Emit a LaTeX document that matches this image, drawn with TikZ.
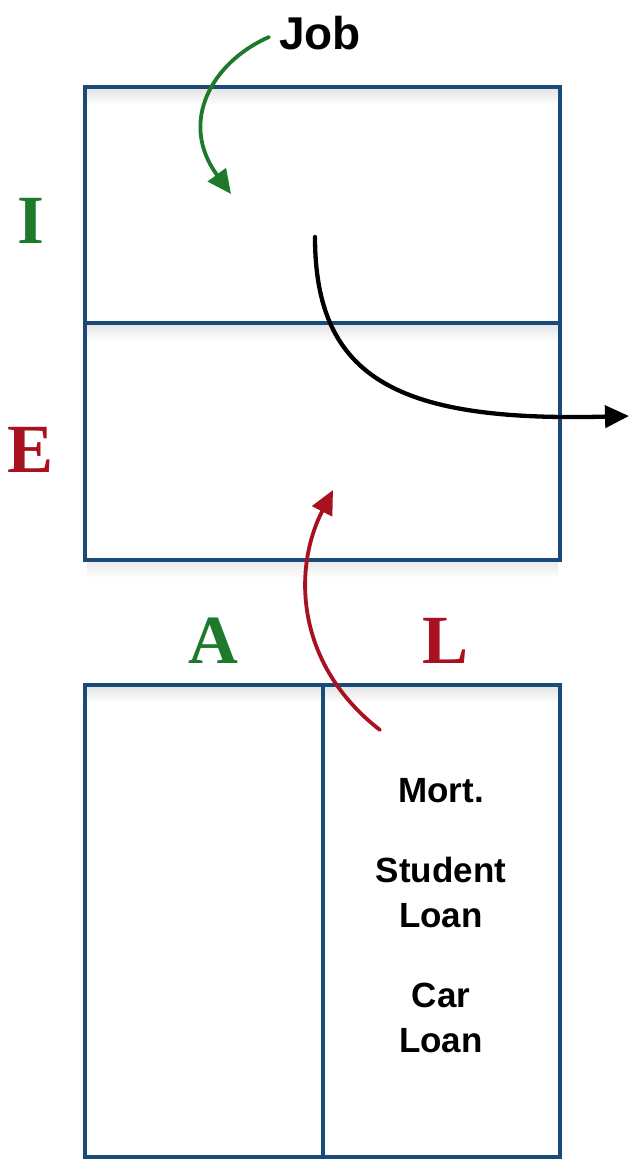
\documentclass[tikz,border=0pt]{standalone}
\usepackage{fontspec}
\setmainfont{Liberation Serif}
\newfontfamily\lblsans{Liberation Sans}
\usetikzlibrary{arrows.meta}
\definecolor{boxblue}{RGB}{26,74,122}
\definecolor{igreen}{RGB}{30,122,42}
\definecolor{ered}{RGB}{168,18,32}
\tikzset{
  box/.style={draw=boxblue, line width=3.4pt},
  bigletter/.style={font=\fontsize{69}{69}\selectfont\bfseries, inner sep=0pt, anchor=base},
  loanlbl/.style={font=\lblsans\bfseries\fontsize{35}{45}\selectfont, align=center, inner sep=0pt, anchor=base},
  flow/.style={line width=3.8pt, line cap=round, -{Triangle[length=24pt,width=22pt]}},
  shadeband/.style={top color=black!10, bottom color=white, draw=none}
}
\begin{document}
\begin{tikzpicture}[x=1pt,y=-1pt]
\useasboundingbox (0,0) rectangle (629,1160);
\fill[white] (0,0) rectangle (629,1160);
% soft shading
\shade[shadeband] (87,89) rectangle (558,105);
\shade[shadeband] (87,325) rectangle (558,341);
\shade[shadeband] (87,687) rectangle (558,703);
\shade[top color=black!8, bottom color=white, draw=none] (87,562) rectangle (558,578);
% boxes
\draw[box] (85,87) rectangle (560,560);
\draw[box] (85,323) -- (560,323);
\draw[box] (85,685) rectangle (560,1157);
\draw[box] (323,685) -- (323,1157);
% letters
\node[bigletter, text=igreen] (I) at (31,243) {I};
\node[bigletter, text=ered] (E) at (31,472) {E};
\node[bigletter, text=igreen] (A) at (213,663) {A};
\node[bigletter, text=ered] (L) at (446,663) {L};
% labels
\node[font=\lblsans\bfseries\fontsize{46}{46}\selectfont, inner sep=0pt, anchor=base] (job) at (320,49) {Job};
\node[loanlbl] (mort) at (441,802) {Mort.};
\node[loanlbl] (student) at (441,927) {Student\\Loan};
\node[loanlbl] (car) at (441,1052) {Car\\Loan};
% arrow end points
\coordinate (jobstart) at (269,37);
\coordinate (jobend) at (231,194);
\coordinate (outstart) at (315,237);
\coordinate (outend) at (629,416);
\coordinate (debtstart) at (380,730);
\coordinate (debtend) at (333,490);
% arrows
\draw[flow, igreen] (jobstart) .. controls (212,62) and (178,122) .. (jobend);
\draw[flow, black, line width=4.3pt] (outstart) .. controls (315,380) and (400,422) .. (outend);
\draw[flow, ered] (debtstart) .. controls (296,665) and (292,570) .. (debtend);
\end{tikzpicture}
\end{document}
